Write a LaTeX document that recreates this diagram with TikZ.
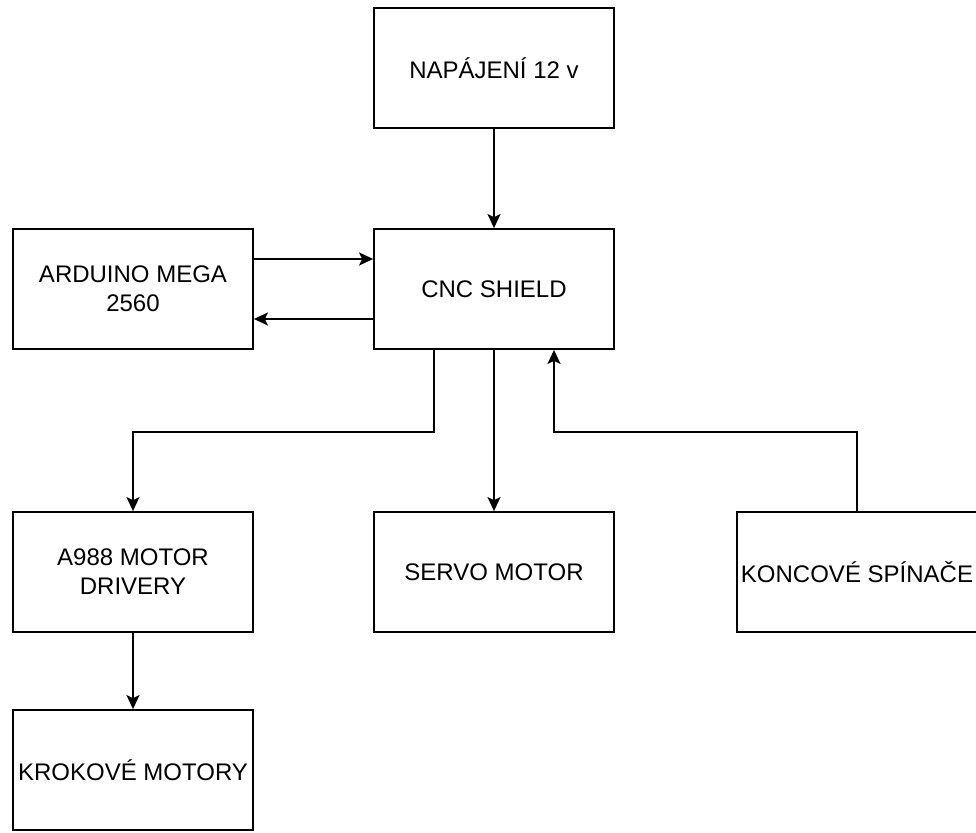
\documentclass[tikz,border=0pt]{standalone}
\usepackage{fontspec}
\setmainfont{Liberation Sans}
\usetikzlibrary{arrows.meta}
\begin{document}
\begin{tikzpicture}[x=1pt,y=-1pt,
  blk/.style={draw=black,line width=1.8pt,minimum width=240pt,minimum height=120pt,
    inner sep=0pt,align=center,font=\fontsize{24}{28.8}\selectfont},
  conn/.style={draw=black,line width=1.8pt,-{Stealth[length=14pt,width=13pt,inset=3pt]}}]
\useasboundingbox (0,0) rectangle (976,832);
\node[blk] (nap) at (494,68) {NAPÁJENÍ 12 v};
\node[blk] (ard) at (133,289) {ARDUINO MEGA\\2560};
\node[blk] (cnc) at (494,289) {CNC SHIELD};
\node[blk] (drv) at (133,572) {A988 MOTOR\\DRIVERY};
\node[blk] (srv) at (494,572) {SERVO MOTOR};
\node[blk] (kon) at (857,572) {KONCOVÉ SPÍNAČE};
\node[blk] (krk) at (133,770) {KROKOVÉ MOTORY};
\coordinate (j1) at (434,432);
\coordinate (j2) at (554,432);
\draw[conn] (nap.south) -- (cnc.north);
\draw[conn] ([yshift=30pt]ard.east) -- ([yshift=30pt]cnc.west);
\draw[conn] ([yshift=-30pt]cnc.west) -- ([yshift=-30pt]ard.east);
\draw[conn] ([xshift=-60pt]cnc.south) |- (j1) -| (drv.north);
\draw[conn] (cnc.south) -- (srv.north);
\draw[conn] (kon.north) |- (j2) -- ([xshift=60pt]cnc.south);
\draw[conn] (drv.south) -- (krk.north);
\end{tikzpicture}
\end{document}
